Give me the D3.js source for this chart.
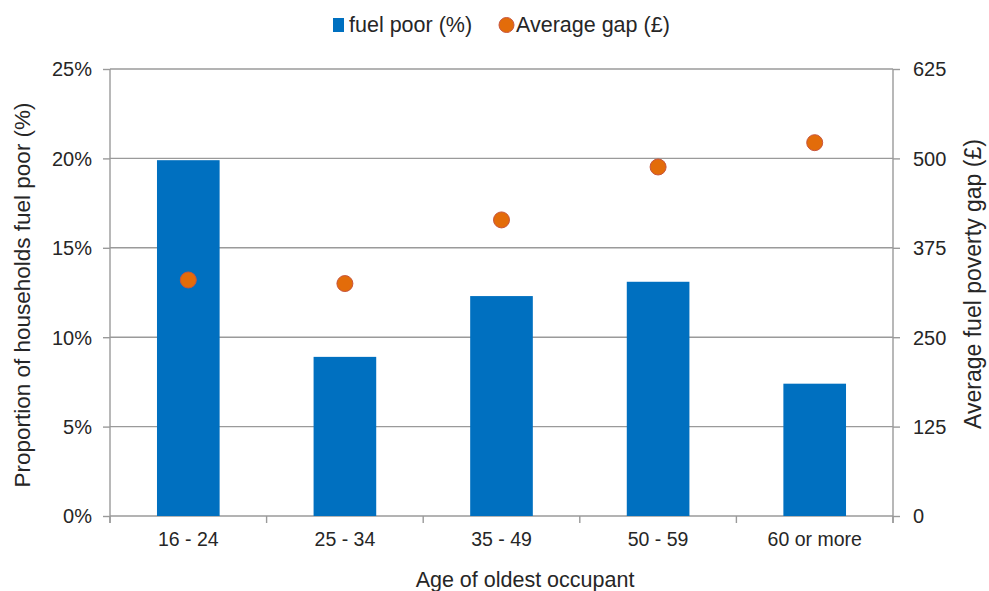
<!DOCTYPE html>
<html>
<head>
<meta charset="utf-8">
<script src="https://cdn.jsdelivr.net/npm/d3@7"></script>
<style>
  html, body { margin: 0; padding: 0; background: #fff; }
  svg { display: block; font-family: "Liberation Sans", Arial, sans-serif; }
</style>
</head>
<body>
<svg id="chart" width="989" height="591"></svg>
<script>
// Fuel poverty by age of oldest occupant
const categories = ["16 - 24", "25 - 34", "35 - 49", "50 - 59", "60 or more"];
const fuelPoor = [19.9, 8.9, 12.3, 13.1, 7.4];          // % of households
const averageGap = [330, 325, 414, 488, 522];           // £
const leftTicks = [0, 5, 10, 15, 20, 25];
const rightTicks = [0, 125, 250, 375, 500, 625];

const svg = d3.select("#chart");
const margin = { left: 110, right: 96, top: 69, bottom: 75 };
const W = 989, H = 591;
const x0 = margin.left, x1 = W - margin.right;
const yTop = margin.top, yBot = H - margin.bottom;

const textColor = "#262626";
const gridColor = "#9a9a9a";

const x = d3.scaleBand().domain(categories).range([x0, x1]).paddingInner(0.6).paddingOuter(0.3);
const band = d3.scaleBand().domain(categories).range([x0, x1]);
const yL = d3.scaleLinear().domain([0, 25]).range([yBot, yTop]);
const yR = d3.scaleLinear().domain([0, 625]).range([yBot, yTop]);

// horizontal gridlines
svg.append("g").selectAll("line").data(leftTicks).join("line")
  .attr("x1", x0).attr("x2", x1)
  .attr("y1", d => yL(d)).attr("y2", d => yL(d))
  .attr("stroke", gridColor).attr("stroke-width", 1.4);

// bars
svg.append("g").selectAll("rect").data(categories).join("rect")
  .attr("x", d => x(d))
  .attr("width", x.bandwidth())
  .attr("y", (d, i) => yL(fuelPoor[i]))
  .attr("height", (d, i) => yBot - yL(fuelPoor[i]))
  .attr("fill", "#0070C0");

// left axis
const leftAxis = svg.append("g").attr("transform", `translate(${x0},0)`)
  .call(d3.axisLeft(yL).tickValues(leftTicks).tickFormat(d => d + "%").tickSize(7).tickPadding(11));
// right axis
const rightAxis = svg.append("g").attr("transform", `translate(${x1},0)`)
  .call(d3.axisRight(yR).tickValues(rightTicks).tickSize(7).tickPadding(13));
// bottom axis: labels centred in each band
const bottomAxis = svg.append("g").attr("transform", `translate(0,${yBot})`)
  .call(d3.axisBottom(band).tickSize(0).tickPadding(26));

[leftAxis, rightAxis, bottomAxis].forEach(g => {
  g.select(".domain").remove();
  g.selectAll("line").attr("stroke", gridColor).attr("stroke-width", 1.4);
  g.selectAll("text").attr("fill", textColor).style("font-size", "20px");
});
leftAxis.selectAll("text").attr("dy", "0.34em");
rightAxis.selectAll("text").attr("dy", "0.34em");
bottomAxis.selectAll("text").attr("dy", "0.2em").style("font-size", "19.5px");

// vertical axis lines, reaching slightly below the baseline
[x0, x1].forEach(px => {
  svg.append("line").attr("x1", px).attr("x2", px).attr("y1", yTop).attr("y2", yBot + 7)
    .attr("stroke", gridColor).attr("stroke-width", 1.4);
});
// category separator ticks
const bounds = categories.map(c => band(c)).concat([x1]);
svg.append("g").selectAll("line").data(bounds).join("line")
  .attr("x1", d => d).attr("x2", d => d)
  .attr("y1", yBot).attr("y2", yBot + 7)
  .attr("stroke", gridColor).attr("stroke-width", 1.4);

// average gap markers
svg.append("g").selectAll("circle").data(categories).join("circle")
  .attr("cx", d => band(d) + band.bandwidth() / 2)
  .attr("cy", (d, i) => yR(averageGap[i]))
  .attr("r", 8)
  .attr("fill", "#E36C0A")
  .attr("stroke", "#C8553D").attr("stroke-width", 1);

// axis titles
svg.append("text")
  .attr("x", 525).attr("y", 587)
  .attr("text-anchor", "middle").attr("fill", textColor)
  .style("font-size", "21.5px")
  .text("Age of oldest occupant");

svg.append("text")
  .attr("transform", "translate(30,295) rotate(-90)")
  .attr("text-anchor", "middle").attr("fill", textColor)
  .style("font-size", "22.5px")
  .text("Proportion of households fuel poor (%)");

svg.append("text")
  .attr("transform", "translate(981,284) rotate(-90)")
  .attr("text-anchor", "middle").attr("fill", textColor)
  .style("font-size", "23px")
  .text("Average fuel poverty gap (£)");

// legend
const legend = svg.append("g");
legend.append("rect").attr("x", 333).attr("y", 18).attr("width", 11).attr("height", 14).attr("fill", "#0070C0");
legend.append("text").attr("x", 349).attr("y", 32).attr("fill", textColor)
  .style("font-size", "21.5px").text("fuel poor (%)");
legend.append("circle").attr("cx", 506.5).attr("cy", 25).attr("r", 7.5)
  .attr("fill", "#E36C0A").attr("stroke", "#C8553D").attr("stroke-width", 1);
legend.append("text").attr("x", 516).attr("y", 32).attr("fill", textColor)
  .style("font-size", "21.5px").text("Average gap (£)");
</script>
</body>
</html>
